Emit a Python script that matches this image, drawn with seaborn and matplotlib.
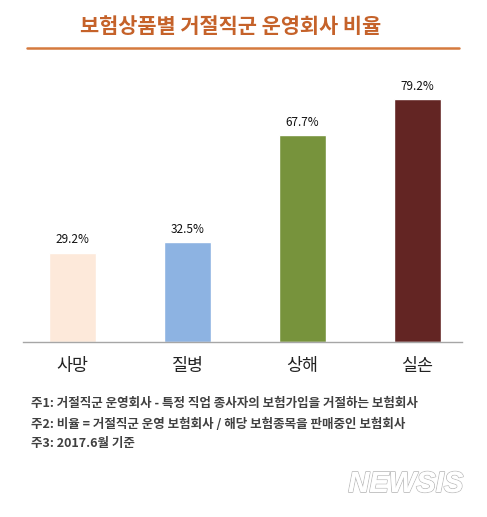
import matplotlib
matplotlib.use('Agg')
import matplotlib.pyplot as plt
import matplotlib.patheffects as pe
import seaborn as sns
import pandas as pd

categories = ['사망', '질병', '상해', '실손']
ratios = [29.2, 32.5, 67.7, 79.2]
bar_colors = ['#FDE9DA', '#8DB3E2', '#77933C', '#632523']
title = '보험상품별 거절직군 운영회사 비율'
notes = [
    '주1: 거절직군 운영회사 - 특정 직업 종사자의 보험가입을 거절하는 보험회사',
    '주2: 비율 = 거절직군 운영 보험회사 / 해당 보험종목을 판매중인 보험회사',
    '주3: 2017.6월 기준',
]

sns.set_style('white')
plt.rcParams['font.family'] = ['Noto Sans CJK KR', 'DejaVu Sans']

W, H = 487, 517
fig = plt.figure(figsize=(W / 100, H / 100), dpi=100)

# axes: x 23..462 px, y 80..342 px; category slots are 115 px wide
ax = fig.add_axes([23 / W, (H - 342) / H, 439 / W, 262 / H])
df = pd.DataFrame({'cat': categories, 'val': ratios})
sns.barplot(data=df, x='cat', y='val', hue='cat', palette=bar_colors,
            width=0.41, legend=False, ax=ax, saturation=1)
ax.set_xlim(-0.43, 3.387)
ax.set_ylim(0, 262 / 3.062)
for i, v in enumerate(ratios):
    ax.text(i, v + 2.0, f'{v}%', ha='center', va='bottom', fontsize=8.5, color='#111111')

for s in ['top', 'right', 'left']:
    ax.spines[s].set_visible(False)
ax.spines['bottom'].set_color('#A6A6A6')
ax.spines['bottom'].set_linewidth(1)
ax.set_yticks([])
ax.set_xlabel('')
ax.set_ylabel('')
ax.set_xticks(range(4))
ax.set_xticklabels(categories, fontsize=12.5, color='#222222')
ax.tick_params(axis='x', which='major', length=0, pad=11)
ax.set_xticks([0.5, 1.5, 2.5], minor=True)
ax.tick_params(axis='x', which='minor', length=4, color='#A6A6A6', direction='out')

fig.text(231 / W, 1 - 27 / H, title, ha='center', va='center', fontsize=15,
         fontweight='heavy', color='#C5622A')
fig.add_artist(plt.Line2D([27 / W, 459 / W], [1 - 48 / H, 1 - 48 / H],
                          color='#D57A3E', linewidth=1.8))

for k, line in enumerate(notes):
    fig.text(31 / W, 1 - (404 + 20 * k) / H, line, ha='left', va='center',
             fontsize=9.0, fontweight='bold', color='#404040')

wm = fig.text(463 / W, 1 - 484 / H, 'NEWSIS', ha='right', va='center', fontsize=21,
              style='italic', fontweight='bold', family='Liberation Sans', color='white')
wm.set_path_effects([pe.withStroke(linewidth=1.2, foreground='#BBBBBB'), pe.Normal()])

fig.savefig('out.png', dpi=100)
